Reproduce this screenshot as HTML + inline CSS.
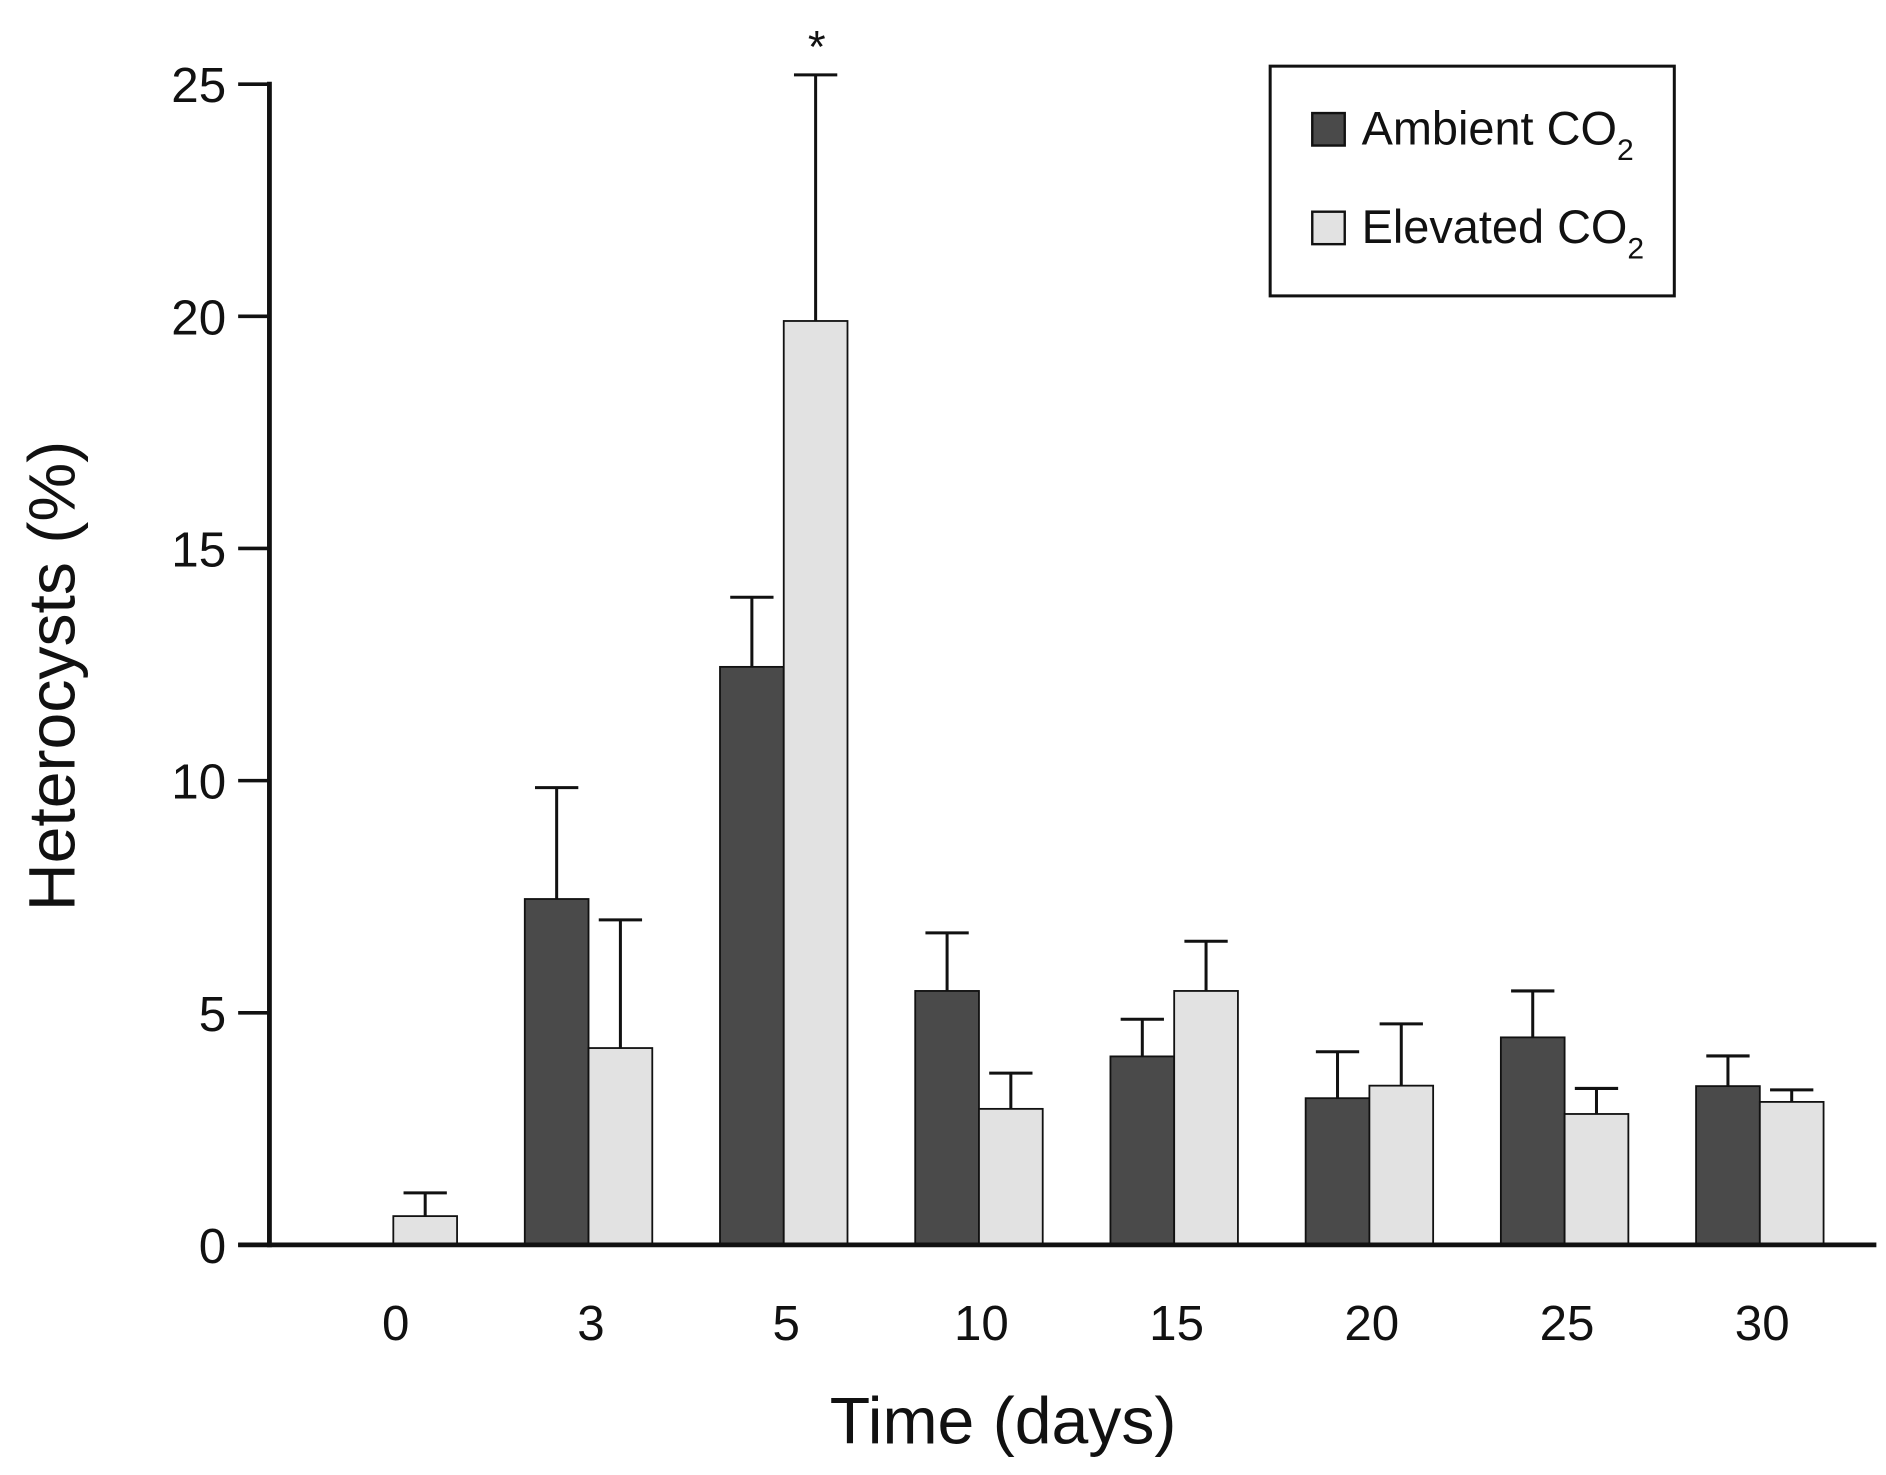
<!DOCTYPE html>
<html><head><meta charset="utf-8"><style>
html,body{margin:0;padding:0;background:#fff}
svg{display:block}
text{font-family:"Liberation Sans",sans-serif;fill:#111}
</style></head><body>
<svg id="chart" width="1886" height="1475" viewBox="0 0 1568 1226.3" xmlns="http://www.w3.org/2000/svg">
<g id="bars"></g>
<g id="axes"></g>
<text transform="translate(62,562) rotate(-90)" text-anchor="middle" font-size="55">Heterocysts (%)</text>
<text x="834" y="1200" text-anchor="middle" font-size="55">Time (days)</text>
<text x="679" y="52" text-anchor="middle" font-size="38">*</text>
<g>
<rect x="1056" y="55" width="336" height="191" fill="#fff" stroke="#111" stroke-width="2.5"/>
<rect x="1091" y="94" width="27" height="27" fill="#4a4a4a" stroke="#111" stroke-width="2"/>
<text x="1132" y="120" font-size="39">Ambient CO<tspan font-size="25" dy="13">2</tspan></text>
<rect x="1091" y="176" width="27" height="27" fill="#e2e2e2" stroke="#111" stroke-width="2"/>
<text x="1132" y="202" font-size="39">Elevated CO<tspan font-size="25" dy="13">2</tspan></text>
</g>
</svg>
<script>
const categories = ["0","3","5","10","15","20","25","30"];
const ambientValues = [0, 7.45, 12.45, 5.47, 4.06, 3.16, 4.47, 3.42];
const ambientErrors = [0, 2.4, 1.5, 1.25, 0.8, 1.0, 1.0, 0.65];
const elevatedValues = [0.62, 4.24, 19.9, 2.93, 5.47, 3.43, 2.82, 3.08];
const elevatedErrors = [0.5, 2.76, 5.3, 0.77, 1.07, 1.33, 0.55, 0.26];
const yTicks = [0,5,10,15,20,25];

const NS="http://www.w3.org/2000/svg";
const x0=224, x1=1560, y0=1035, yTop=70, yMax=25;
const yScale=v=>y0-(y0-yTop)*v/yMax;
const xCenter=i=>327+i*162.3;
const barW=53;
function mk(tag,attrs,parent){const e=document.createElementNS(NS,tag);for(const k in attrs)e.setAttribute(k,attrs[k]);parent.appendChild(e);return e;}
const bars=document.getElementById('bars'), axes=document.getElementById('axes');
function drawBar(cx,v,err,fill,name){
  if(v>0){
    const r=mk('rect',{x:cx-barW/2,y:yScale(v),width:barW,height:y0-yScale(v),fill:fill,stroke:'#111','stroke-width':1.5},bars);
    
    
  }
  if(err>0){
    const l=mk('path',{d:`M${cx},${yScale(v)} V${yScale(v+err)} M${cx-18},${yScale(v+err)} H${cx+18}`,stroke:'#111','stroke-width':2.5,fill:'none'},bars);
    
    
  }
}
categories.forEach((c,i)=>{
  const cx=xCenter(i);
  drawBar(cx-barW/2,ambientValues[i],ambientErrors[i],'#4a4a4a','bar-ambient-day'+c);
  drawBar(cx+barW/2,elevatedValues[i],elevatedErrors[i],'#e2e2e2','bar-elevated-day'+c);
  const t=mk('text',{x:cx+2,y:1114,'text-anchor':'middle','font-size':41},axes);
  t.textContent=c;
  
  
});
const ya=mk('line',{x1:x0,y1:yTop-2,x2:x0,y2:y0+2,stroke:'#111','stroke-width':4},axes);


const xa=mk('line',{x1:198,y1:y0,x2:x1,y2:y0,stroke:'#111','stroke-width':4},axes);


yTicks.forEach(v=>{
  const y=yScale(v);
  const tk=mk('line',{x1:198,y1:y,x2:x0,y2:y,stroke:'#111','stroke-width':3},axes);
  
  
  const t=mk('text',{x:188,y:y+15,'text-anchor':'end','font-size':41},axes);
  t.textContent=v;
  
  
});
</script>
</body></html>
